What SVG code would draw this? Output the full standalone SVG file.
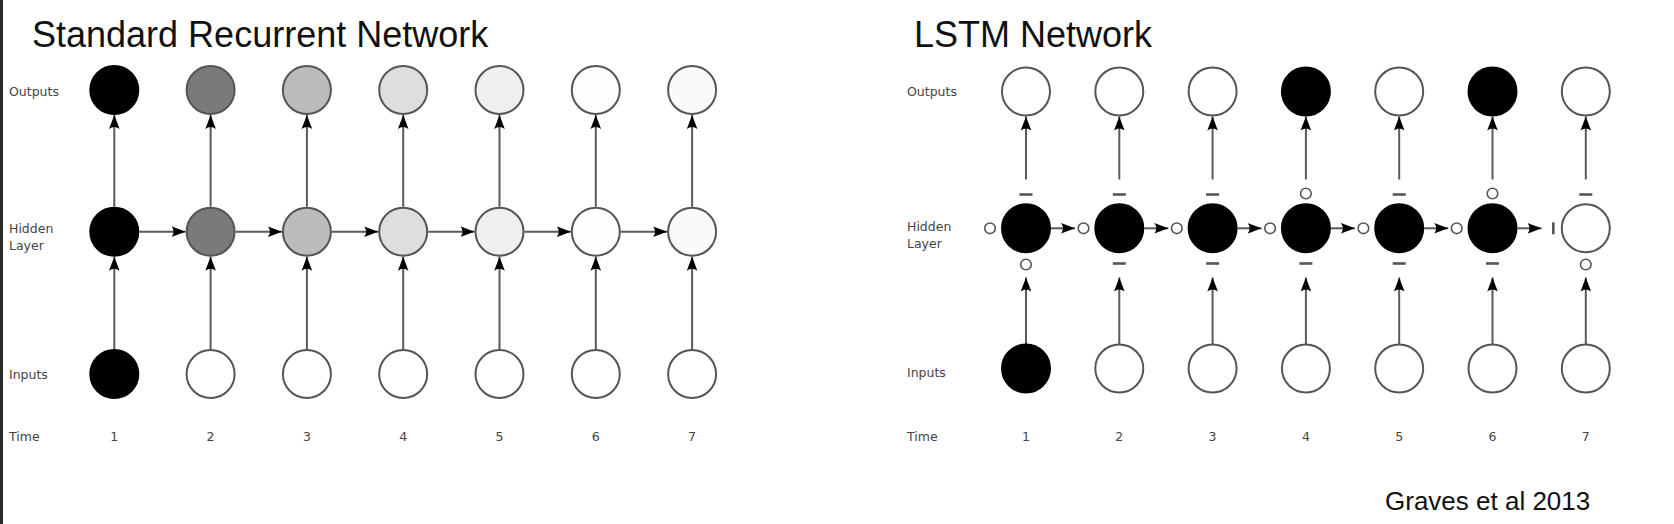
<svg xmlns="http://www.w3.org/2000/svg" width="1674" height="524" viewBox="0 0 1674 524">
<style>
.title{font-family:"Liberation Sans",Arial,sans-serif;font-size:36px;fill:#111}
.cite{font-family:"Liberation Sans",Arial,sans-serif;font-size:26px;fill:#111}
.lbl{font-family:"DejaVu Sans",Verdana,sans-serif;font-size:12.5px;fill:#444}
.num{font-family:"DejaVu Sans",Verdana,sans-serif;font-size:12.5px;fill:#444;text-anchor:middle}
.node{stroke:#555;stroke-width:2}
.blk{fill:#000;stroke:#000;stroke-width:2}
.wht{fill:#fff;stroke:#555;stroke-width:2}
.edge{stroke:#5a5a5a;stroke-width:2;fill:none;marker-end:url(#ah)}
.gate{fill:#fff;stroke:#555;stroke-width:1.6}
.bar{stroke:#555;stroke-width:2.6}
</style>
<defs>
<marker id="ah" markerUnits="userSpaceOnUse" viewBox="-14 -6 15 12" refX="0" refY="0" markerWidth="15" markerHeight="12" orient="auto">
<path d="M0,0 L-14,-5.3 Q-10,0 -14,5.3 Z" fill="#000"/>
</marker>
</defs>
<rect x="0" y="0" width="1674" height="524" fill="#fff"/>
<rect x="0" y="0" width="3" height="524" fill="#2a2a2a"/>

<text class="title" x="32" y="47">Standard Recurrent Network</text>
<text class="title" x="914" y="47">LSTM Network</text>
<text class="cite" x="1385" y="510">Graves et al 2013</text>

<g id="labels-left">
<text class="lbl" x="9" y="96">Outputs</text>
<text class="lbl" x="9" y="233">Hidden</text>
<text class="lbl" x="9" y="250">Layer</text>
<text class="lbl" x="9" y="379">Inputs</text>
<text class="lbl" x="9" y="441">Time</text>
<text class="num" x="114.3" y="441">1</text>
<text class="num" x="210.6" y="441">2</text>
<text class="num" x="306.9" y="441">3</text>
<text class="num" x="403.2" y="441">4</text>
<text class="num" x="499.5" y="441">5</text>
<text class="num" x="595.8" y="441">6</text>
<text class="num" x="692.1" y="441">7</text>
</g>
<g id="labels-right">
<text class="lbl" x="907" y="96">Outputs</text>
<text class="lbl" x="907" y="231">Hidden</text>
<text class="lbl" x="907" y="248">Layer</text>
<text class="lbl" x="907" y="377">Inputs</text>
<text class="lbl" x="907" y="441">Time</text>
<text class="num" x="1026" y="441">1</text>
<text class="num" x="1119.3" y="441">2</text>
<text class="num" x="1212.6" y="441">3</text>
<text class="num" x="1305.9" y="441">4</text>
<text class="num" x="1399.2" y="441">5</text>
<text class="num" x="1492.5" y="441">6</text>
<text class="num" x="1585.8" y="441">7</text>
</g>

<g id="connectors">
<line class="edge" x1="114.3" y1="349" x2="114.3" y2="256.7"/>
<line class="edge" x1="210.6" y1="349" x2="210.6" y2="256.7"/>
<line class="edge" x1="306.9" y1="349" x2="306.9" y2="256.7"/>
<line class="edge" x1="403.2" y1="349" x2="403.2" y2="256.7"/>
<line class="edge" x1="499.5" y1="349" x2="499.5" y2="256.7"/>
<line class="edge" x1="595.8" y1="349" x2="595.8" y2="256.7"/>
<line class="edge" x1="692.1" y1="349" x2="692.1" y2="256.7"/>
<line class="edge" x1="114.3" y1="206.7" x2="114.3" y2="115"/>
<line class="edge" x1="210.6" y1="206.7" x2="210.6" y2="115"/>
<line class="edge" x1="306.9" y1="206.7" x2="306.9" y2="115"/>
<line class="edge" x1="403.2" y1="206.7" x2="403.2" y2="115"/>
<line class="edge" x1="499.5" y1="206.7" x2="499.5" y2="115"/>
<line class="edge" x1="595.8" y1="206.7" x2="595.8" y2="115"/>
<line class="edge" x1="692.1" y1="206.7" x2="692.1" y2="115"/>
<line class="edge" x1="139.3" y1="231.7" x2="185.6" y2="231.7"/>
<line class="edge" x1="235.6" y1="231.7" x2="281.9" y2="231.7"/>
<line class="edge" x1="331.9" y1="231.7" x2="378.2" y2="231.7"/>
<line class="edge" x1="428.2" y1="231.7" x2="474.5" y2="231.7"/>
<line class="edge" x1="524.5" y1="231.7" x2="570.8" y2="231.7"/>
<line class="edge" x1="620.8" y1="231.7" x2="667.1" y2="231.7"/>

<line class="edge" x1="1026" y1="344" x2="1026" y2="277.5"/>
<line class="edge" x1="1119.3" y1="344" x2="1119.3" y2="277.5"/>
<line class="edge" x1="1212.6" y1="344" x2="1212.6" y2="277.5"/>
<line class="edge" x1="1305.9" y1="344" x2="1305.9" y2="277.5"/>
<line class="edge" x1="1399.2" y1="344" x2="1399.2" y2="277.5"/>
<line class="edge" x1="1492.5" y1="344" x2="1492.5" y2="277.5"/>
<line class="edge" x1="1585.8" y1="344" x2="1585.8" y2="277.5"/>
<line class="edge" x1="1026" y1="179.5" x2="1026" y2="116.5"/>
<line class="edge" x1="1119.3" y1="179.5" x2="1119.3" y2="116.5"/>
<line class="edge" x1="1212.6" y1="179.5" x2="1212.6" y2="116.5"/>
<line class="edge" x1="1305.9" y1="179.5" x2="1305.9" y2="116.5"/>
<line class="edge" x1="1399.2" y1="179.5" x2="1399.2" y2="116.5"/>
<line class="edge" x1="1492.5" y1="179.5" x2="1492.5" y2="116.5"/>
<line class="edge" x1="1585.8" y1="179.5" x2="1585.8" y2="116.5"/>
<line class="edge" x1="1051" y1="228.3" x2="1075" y2="228.3"/>
<line class="edge" x1="1144.3" y1="228.3" x2="1168.3" y2="228.3"/>
<line class="edge" x1="1237.6" y1="228.3" x2="1261.6" y2="228.3"/>
<line class="edge" x1="1330.9" y1="228.3" x2="1354.9" y2="228.3"/>
<line class="edge" x1="1424.2" y1="228.3" x2="1448.2" y2="228.3"/>
<line class="edge" x1="1517.5" y1="228.3" x2="1541.5" y2="228.3"/>
</g>

<g id="left-outputs">
<circle id="lo1" class="blk" cx="114.3" cy="90" r="24"/>
<circle id="lo2" class="node" cx="210.6" cy="90" r="24" fill="#7a7a7a"/>
<circle id="lo3" class="node" cx="306.9" cy="90" r="24" fill="#bcbcbc"/>
<circle id="lo4" class="node" cx="403.2" cy="90" r="24" fill="#dedede"/>
<circle id="lo5" class="node" cx="499.5" cy="90" r="24" fill="#efefef"/>
<circle id="lo6" class="node" cx="595.8" cy="90" r="24" fill="#fefefe"/>
<circle id="lo7" class="node" cx="692.1" cy="90" r="24" fill="#fafafa"/>
</g>
<g id="left-hidden">
<circle id="lh1" class="blk" cx="114.3" cy="231.7" r="24"/>
<circle id="lh2" class="node" cx="210.6" cy="231.7" r="24" fill="#7a7a7a"/>
<circle id="lh3" class="node" cx="306.9" cy="231.7" r="24" fill="#bcbcbc"/>
<circle id="lh4" class="node" cx="403.2" cy="231.7" r="24" fill="#dedede"/>
<circle id="lh5" class="node" cx="499.5" cy="231.7" r="24" fill="#efefef"/>
<circle id="lh6" class="node" cx="595.8" cy="231.7" r="24" fill="#fefefe"/>
<circle id="lh7" class="node" cx="692.1" cy="231.7" r="24" fill="#fafafa"/>
</g>
<g id="left-inputs">
<circle id="li1" class="blk" cx="114.3" cy="374" r="24"/>
<circle id="li2" class="wht" cx="210.6" cy="374" r="24"/>
<circle id="li3" class="wht" cx="306.9" cy="374" r="24"/>
<circle id="li4" class="wht" cx="403.2" cy="374" r="24"/>
<circle id="li5" class="wht" cx="499.5" cy="374" r="24"/>
<circle id="li6" class="wht" cx="595.8" cy="374" r="24"/>
<circle id="li7" class="wht" cx="692.1" cy="374" r="24"/>
</g>

<g id="right-outputs">
<circle id="ro1" class="wht" cx="1026" cy="91.5" r="24"/>
<circle id="ro2" class="wht" cx="1119.3" cy="91.5" r="24"/>
<circle id="ro3" class="wht" cx="1212.6" cy="91.5" r="24"/>
<circle id="ro4" class="blk" cx="1305.9" cy="91.5" r="24"/>
<circle id="ro5" class="wht" cx="1399.2" cy="91.5" r="24"/>
<circle id="ro6" class="blk" cx="1492.5" cy="91.5" r="24"/>
<circle id="ro7" class="wht" cx="1585.8" cy="91.5" r="24"/>
</g>
<g id="right-hidden">
<circle id="rh1" class="blk" cx="1026" cy="228.3" r="24"/>
<circle id="rh2" class="blk" cx="1119.3" cy="228.3" r="24"/>
<circle id="rh3" class="blk" cx="1212.6" cy="228.3" r="24"/>
<circle id="rh4" class="blk" cx="1305.9" cy="228.3" r="24"/>
<circle id="rh5" class="blk" cx="1399.2" cy="228.3" r="24"/>
<circle id="rh6" class="blk" cx="1492.5" cy="228.3" r="24"/>
<circle id="rh7" class="wht" cx="1585.8" cy="228.3" r="24"/>
</g>
<g id="right-inputs">
<circle id="ri1" class="blk" cx="1026" cy="368.5" r="24"/>
<circle id="ri2" class="wht" cx="1119.3" cy="368.5" r="24"/>
<circle id="ri3" class="wht" cx="1212.6" cy="368.5" r="24"/>
<circle id="ri4" class="wht" cx="1305.9" cy="368.5" r="24"/>
<circle id="ri5" class="wht" cx="1399.2" cy="368.5" r="24"/>
<circle id="ri6" class="wht" cx="1492.5" cy="368.5" r="24"/>
<circle id="ri7" class="wht" cx="1585.8" cy="368.5" r="24"/>
</g>
<g id="gates">
<line class="bar" x1="1019.5" y1="194.5" x2="1032.5" y2="194.5"/>
<line class="bar" x1="1112.8" y1="194.5" x2="1125.8" y2="194.5"/>
<line class="bar" x1="1206.1" y1="194.5" x2="1219.1" y2="194.5"/>
<circle class="gate" cx="1305.9" cy="193.5" r="5.3"/>
<line class="bar" x1="1392.7" y1="194.5" x2="1405.7" y2="194.5"/>
<circle class="gate" cx="1492.5" cy="193.5" r="5.3"/>
<line class="bar" x1="1579.3" y1="194.5" x2="1592.3" y2="194.5"/>
<circle class="gate" cx="1026" cy="264.5" r="5.3"/>
<line class="bar" x1="1112.8" y1="263.5" x2="1125.8" y2="263.5"/>
<line class="bar" x1="1206.1" y1="263.5" x2="1219.1" y2="263.5"/>
<line class="bar" x1="1299.4" y1="263.5" x2="1312.4" y2="263.5"/>
<line class="bar" x1="1392.7" y1="263.5" x2="1405.7" y2="263.5"/>
<line class="bar" x1="1486" y1="263.5" x2="1499" y2="263.5"/>
<circle class="gate" cx="1585.8" cy="264.5" r="5.3"/>
<circle class="gate" cx="990" cy="228.3" r="5.3"/>
<circle class="gate" cx="1083.5" cy="228.3" r="5.3"/>
<circle class="gate" cx="1176.8" cy="228.3" r="5.3"/>
<circle class="gate" cx="1270.1" cy="228.3" r="5.3"/>
<circle class="gate" cx="1363.4" cy="228.3" r="5.3"/>
<circle class="gate" cx="1456.7" cy="228.3" r="5.3"/>
<line class="bar" x1="1553.3" y1="222.3" x2="1553.3" y2="234.3"/>
</g>
</svg>
